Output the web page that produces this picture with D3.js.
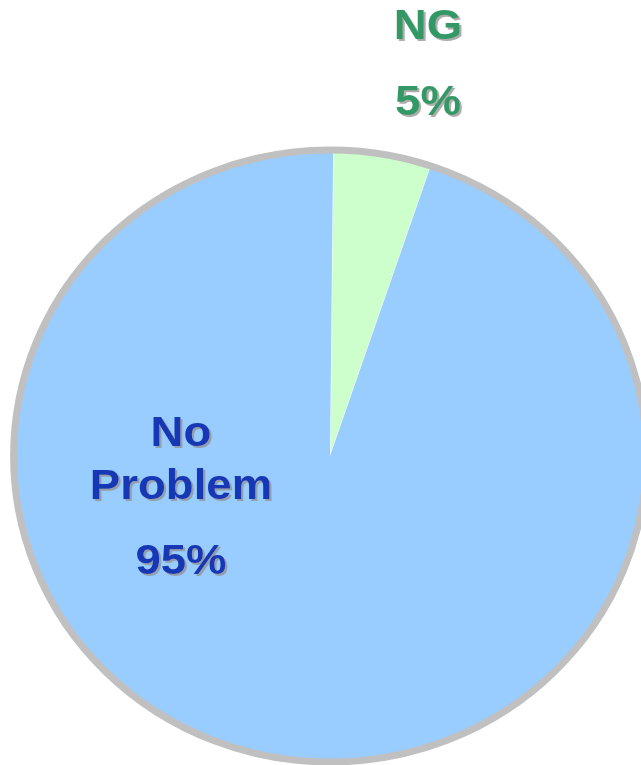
<!DOCTYPE html>
<html>
<head>
<meta charset="utf-8">
<script src="https://cdn.jsdelivr.net/npm/d3@7"></script>
<style>
  html, body { margin: 0; padding: 0; background: #ffffff; }
  svg { display: block; }
  .lbl { font-family: "Liberation Sans", Arial, sans-serif; font-weight: bold; font-size: 43px; }
</style>
</head>
<body>
<svg id="chart" width="641" height="765"></svg>
<script>
// Inspection results
const categories = ["NG", "No Problem"];
const values = [5, 95];
const percentLabels = ["5%", "95%"];

const sliceColors = { "NG": "#ccffcc", "No Problem": "#99ccff" };
const textColors = { "NG": "#339966", "No Problem": "#1438b4" };

const svg = d3.select("#chart");
const cx = 330, cy = 456;
const ry = 306;          // vertical radius
const sx = 1.034;        // pie is slightly wider than tall

// drop shadow used by the labels
const defs = svg.append("defs");
defs.append("filter")
  .attr("id", "shadow")
  .attr("x", "-10%").attr("y", "-10%").attr("width", "130%").attr("height", "130%")
  .append("feDropShadow")
  .attr("dx", 2).attr("dy", 2)
  .attr("stdDeviation", 0.6)
  .attr("flood-color", "#909090")
  .attr("flood-opacity", 0.75);

const data = categories.map((c, i) => ({ name: c, value: values[i], pct: percentLabels[i] }));

const pie = d3.pie().sort(null).value(d => d.value).startAngle(0.01).endAngle(2 * Math.PI + 0.01);
const arcs = pie(data);
const arc = d3.arc().innerRadius(0).outerRadius(ry);

const g = svg.append("g").attr("transform", `translate(${cx},${cy}) scale(${sx},1)`);

// slices (NG slightly pulled out)
g.selectAll("path.slice")
  .data(arcs)
  .join("path")
  .attr("class", "slice")
  .attr("d", arc)
  .attr("fill", d => sliceColors[d.data.name])
  .attr("transform", d => {
    if (d.data.name !== "NG") return null;
    const mid = (d.startAngle + d.endAngle) / 2;
    const off = 3;
    return `translate(${off * Math.sin(mid)},${-off * Math.cos(mid)})`;
  });

// outer rim
svg.append("ellipse")
  .attr("cx", cx).attr("cy", cy)
  .attr("rx", ry * sx).attr("ry", ry)
  .attr("fill", "none")
  .attr("stroke", "#c0c0c0")
  .attr("stroke-width", 7);

// labels
const labelPos = {
  "NG": { x: 428, lines: [{ t: "NG", y: 39 }, { t: "pct", y: 115 }] },
  "No Problem": { x: 181, lines: [{ t: "No", y: 446 }, { t: "Problem", y: 499 }, { t: "pct", y: 574 }] }
};
const textStretch = 1.06;

data.forEach(d => {
  const p = labelPos[d.name];
  const lg = svg.append("g")
    .attr("transform", `translate(${p.x},0) scale(${textStretch},1)`)
    .attr("filter", "url(#shadow)");
  p.lines.forEach(l => {
    lg.append("text")
      .attr("class", "lbl")
      .attr("x", 0).attr("y", l.y)
      .attr("text-anchor", "middle")
      .attr("fill", textColors[d.name])
      .text(l.t === "pct" ? d.pct : l.t);
  });
});
</script>
</body>
</html>
